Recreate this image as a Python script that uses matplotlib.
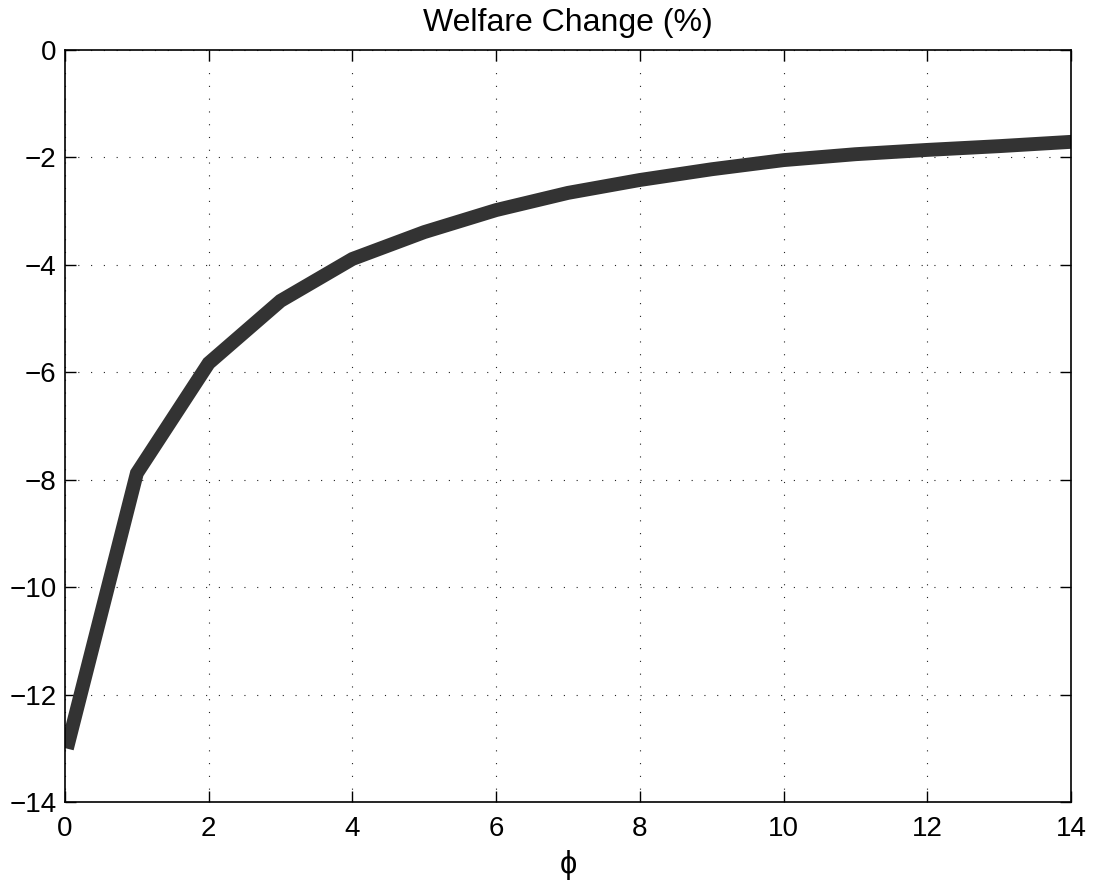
import matplotlib
matplotlib.use("Agg")
import matplotlib.pyplot as plt

plt.rcParams['font.family'] = ['Liberation Sans', 'DejaVu Sans']

phi = [0.05, 1, 2, 3, 4, 5, 6, 7, 8, 9, 10, 11, 12, 13, 14]
welfare = [-12.88, -7.88, -5.83, -4.67, -3.89, -3.39, -2.98, -2.66, -2.42,
           -2.22, -2.05, -1.94, -1.86, -1.79, -1.71]
xticks = [0, 2, 4, 6, 8, 10, 12, 14]
yticks = [-14, -12, -10, -8, -6, -4, -2, 0]

fig = plt.figure(figsize=(10.94, 8.88), dpi=100)
ax = fig.add_axes([65/1094, 1-802/888, (1071-65)/1094, (802-50)/888])
ax.plot(phi, welfare, color='#333333', linewidth=10, solid_joinstyle='miter')
ax.set_xlim(0, 14)
ax.set_ylim(-14, 0)
ax.set_xticks(xticks)
ax.set_yticks(yticks)
ax.grid(True, linestyle=(0, (1, 10.5)), color='#222222', linewidth=0.8)
ax.tick_params(direction='in', length=8, width=1, top=True, right=True,
               labelsize=20)
ax.tick_params(axis='x', pad=10)
ax.tick_params(axis='y', pad=6)
for s in ax.spines.values():
    s.set_linewidth(1.2)
ax.set_title('Welfare Change (%)', fontsize=23, pad=14)
ax.set_xlabel('ϕ', fontsize=22, labelpad=6)
fig.savefig('out.png', dpi=100)
